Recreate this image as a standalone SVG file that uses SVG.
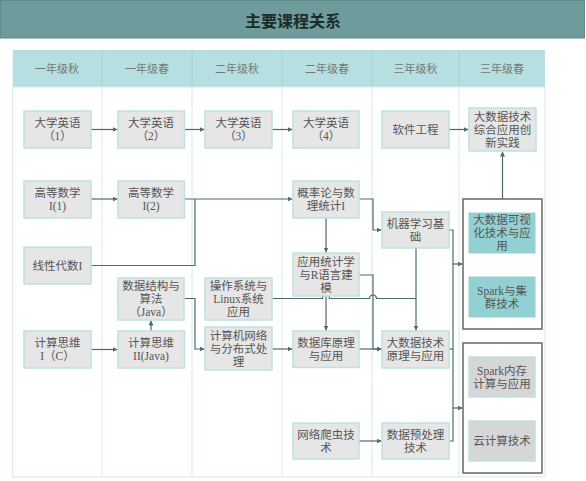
<svg xmlns="http://www.w3.org/2000/svg" width="586" height="481" viewBox="0 0 586 481">
<defs>
<style>
.title{font-family:"Noto Sans CJK SC","Liberation Sans",sans-serif;font-size:16px;font-weight:700;fill:#1e2a2a}
.hd{font-family:"Liberation Serif","Noto Sans CJK SC",serif;font-size:11px;fill:#777}
.n rect{fill:#e6e6e6;stroke:#bfe0e0;stroke-width:1.5}
.t rect{fill:#93d0d1;stroke:#93d0d1;stroke-width:1}
.g rect{fill:#d6d6d6;stroke:#bfe0e0;stroke-width:1.5}
.n text,.t text,.g text{font-family:"Liberation Serif","Noto Sans CJK SC",serif;font-size:11.5px;fill:#555;text-anchor:middle;dominant-baseline:central}
.grid{stroke:#d5eaea;stroke-width:1;fill:none}
.c{fill:none;stroke:#4d6b6b;stroke-width:1.2}
.a{marker-end:url(#ar)}
.box{fill:none;stroke:#666;stroke-width:1.5}
</style>
<marker id="ar" viewBox="0 0 6 6" refX="6" refY="3" markerWidth="5" markerHeight="5" markerUnits="userSpaceOnUse" orient="auto">
<path d="M0,0 L6,3 L0,6 z" fill="#4d6b6b"/>
</marker>
</defs>
<rect width="586" height="481" fill="#fff"/>
<g id="title">
<rect x="0.5" y="0.5" width="584" height="37.5" fill="#6e9b9b" stroke="#5f8c8c"/>
<text class="title" x="293" y="20" text-anchor="middle" dominant-baseline="central">主要课程关系</text>
</g>
<g id="table">
<rect x="12.7" y="50" width="532.3" height="37" fill="#b5dfe0"/>
<g stroke="#a6d2d3" stroke-width="1">
<line x1="102" y1="50" x2="102" y2="87"/><line x1="192" y1="50" x2="192" y2="87"/><line x1="282" y1="50" x2="282" y2="87"/><line x1="372" y1="50" x2="372" y2="87"/><line x1="459" y1="50" x2="459" y2="87"/>
</g>
<rect class="grid" x="12.7" y="87" width="532.3" height="390"/>
<line class="grid" x1="102" y1="87" x2="102" y2="477"/><line class="grid" x1="192" y1="87" x2="192" y2="477"/><line class="grid" x1="282" y1="87" x2="282" y2="477"/><line class="grid" x1="372" y1="87" x2="372" y2="477"/><line class="grid" x1="459" y1="87" x2="459" y2="477"/>
<g class="hd" text-anchor="middle" dominant-baseline="central">
<text x="57" y="68.5">一年级秋</text><text x="147" y="68.5">一年级春</text><text x="237" y="68.5">二年级秋</text><text x="327" y="68.5">二年级春</text><text x="415.5" y="68.5">三年级秋</text><text x="502" y="68.5">三年级春</text>
</g>
</g>
<g id="connectors">
<path class="c a" d="M91,129.5 H117.5"/>
<path class="c a" d="M184.5,129.5 H204.5"/>
<path class="c a" d="M272,129.5 H292.5"/>
<path class="c a" d="M91,199 H117.5"/>
<path class="c a" d="M184.5,199 H292.5"/>
<path class="c" d="M91,265.5 H195 V199"/>
<path class="c a" d="M359,199 H373 V230 H381.5"/>
<path class="c a" d="M326,218 V252.5"/>
<path class="c a" d="M359,275 H373 V349 H381.5"/>
<path class="c" d="M272,298.5 H322.5 A3.5,3.5 0 0 1 329.5,298.5 H369.5 A3.5,3.5 0 0 1 376.5,298.5 H416"/>
<path class="c a" d="M416,248 V330.5"/>
<path class="c a" d="M326,296 V330.5"/>
<path class="c a" d="M183.5,298.5 H195 V349 H204.5"/>
<path class="c a" d="M151,331 V320.5"/>
<path class="c a" d="M91,349.5 H117.5"/>
<path class="c a" d="M272,349 H292.5"/>
<path class="c a" d="M359,349 H381.5"/>
<path class="c a" d="M359,441 H381.5"/>
<path class="c a" d="M449,129.5 H468.5"/>
<path class="c a" d="M502.5,199 V151.5"/>
<path class="c" d="M449,230 H453 V441 H449"/>
<path class="c" d="M449,349 H453"/>
<path class="c a" d="M453,264 H462.5"/>
<path class="c a" d="M453,408 H462.5"/>
</g>
<g id="group1"><rect class="box" x="463" y="199" width="79" height="130"/></g>
<g id="group2"><rect class="box" x="463" y="343" width="79" height="130"/></g>
<g id="eng1" class="n"><rect x="24" y="111" width="67" height="37"/><text x="57.5" y="123">大学英语</text><text x="57.5" y="136">（1）</text></g>
<g id="eng2" class="n"><rect x="118" y="111" width="66.5" height="37"/><text x="151" y="123">大学英语</text><text x="151" y="136">（2）</text></g>
<g id="eng3" class="n"><rect x="205" y="111" width="67" height="37"/><text x="238.5" y="123">大学英语</text><text x="238.5" y="136">（3）</text></g>
<g id="eng4" class="n"><rect x="293" y="111" width="66" height="37"/><text x="326" y="123">大学英语</text><text x="326" y="136">（4）</text></g>
<g id="math1" class="n"><rect x="24" y="181" width="67" height="37"/><text x="57.5" y="193">高等数学</text><text x="57.5" y="206">I(1)</text></g>
<g id="math2" class="n"><rect x="118" y="181" width="66.5" height="37"/><text x="151" y="193">高等数学</text><text x="151" y="206">I(2)</text></g>
<g id="linalg" class="n"><rect x="24" y="247" width="67" height="37"/><text x="57.5" y="265.5">线性代数I</text></g>
<g id="ds" class="n"><rect x="118" y="278" width="66" height="42"/><text x="151" y="286">数据结构与</text><text x="151" y="299">算法</text><text x="151" y="312">（Java）</text></g>
<g id="ct1" class="n"><rect x="24" y="331" width="67" height="37"/><text x="57.5" y="343">计算思维</text><text x="57.5" y="356">I（C）</text></g>
<g id="ct2" class="n"><rect x="118" y="331" width="66.5" height="37"/><text x="151" y="343">计算思维</text><text x="151" y="356">II(Java)</text></g>
<g id="os" class="n"><rect x="205" y="278" width="67" height="42"/><text x="238.5" y="286">操作系统与</text><text x="238.5" y="299">Linux系统</text><text x="238.5" y="312">应用</text></g>
<g id="net" class="n"><rect x="205" y="327" width="67" height="43"/><text x="238.5" y="335.5">计算机网络</text><text x="238.5" y="348.5">与分布式处</text><text x="238.5" y="361.5">理</text></g>
<g id="prob" class="n"><rect x="293" y="181" width="66" height="37"/><text x="326" y="193">概率论与数</text><text x="326" y="206">理统计I</text></g>
<g id="stat" class="n"><rect x="293" y="253" width="66" height="43"/><text x="326" y="261.5">应用统计学</text><text x="326" y="274.5">与R语言建</text><text x="326" y="287.5">模</text></g>
<g id="db" class="n"><rect x="293" y="331" width="66" height="36.5"/><text x="326" y="343">数据库原理</text><text x="326" y="356">与应用</text></g>
<g id="crawler" class="n"><rect x="293" y="423" width="66" height="36"/><text x="326" y="435">网络爬虫技</text><text x="326" y="448">术</text></g>
<g id="se" class="n"><rect x="382" y="111" width="67" height="37"/><text x="415.5" y="129.5">软件工程</text></g>
<g id="ml" class="n"><rect x="382" y="212" width="67" height="36"/><text x="415.5" y="224">机器学习基</text><text x="415.5" y="237">础</text></g>
<g id="bdp" class="n"><rect x="382" y="331" width="67" height="37"/><text x="415.5" y="343">大数据技术</text><text x="415.5" y="356">原理与应用</text></g>
<g id="prep" class="n"><rect x="382" y="423" width="67" height="36"/><text x="415.5" y="435">数据预处理</text><text x="415.5" y="448">技术</text></g>
<g id="capstone" class="n"><rect x="469" y="108" width="67" height="43"/><text x="502.5" y="116.5">大数据技术</text><text x="502.5" y="129.5">综合应用创</text><text x="502.5" y="142.5">新实践</text></g>
<g id="vis" class="t"><rect x="469" y="213" width="66" height="40"/><text x="502" y="220">大数据可视</text><text x="502" y="233">化技术与应</text><text x="502" y="246">用</text></g>
<g id="spark" class="t"><rect x="469" y="277" width="66" height="40"/><text x="502" y="290.5">Spark与集</text><text x="502" y="303.5">群技术</text></g>
<g id="sparkmem" class="g"><rect x="469" y="357" width="66" height="40"/><text x="502" y="370.5">Spark内存</text><text x="502" y="383.5">计算与应用</text></g>
<g id="cloud" class="g"><rect x="469" y="421" width="66" height="40"/><text x="502" y="441">云计算技术</text></g>
</svg>
